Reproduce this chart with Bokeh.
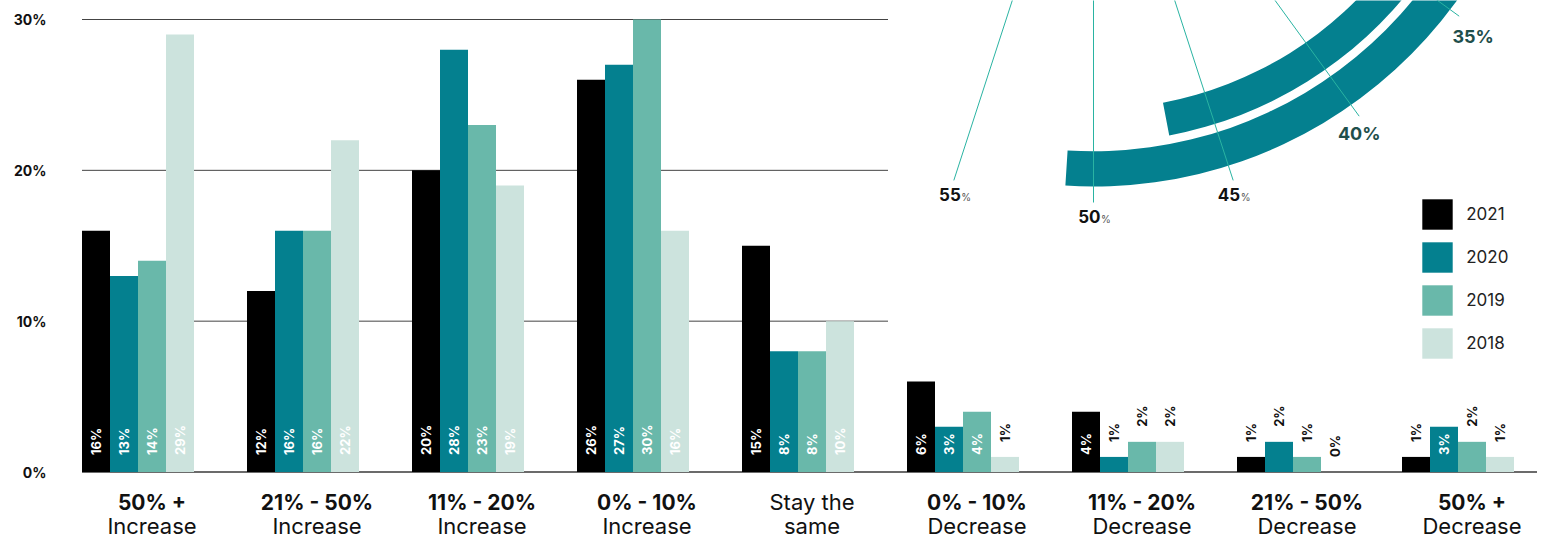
import numpy as np
from bokeh.plotting import figure
from bokeh.models import (ColumnDataSource, Range1d, FixedTicker,
                          PrintfTickFormatter, Legend, LegendItem)
from bokeh.core.properties import value
from bokeh.embed import file_html
from bokeh.resources import INLINE

# ---------------- data ----------------
CAT_LINE1 = ["50% +", "21% - 50%", "11% - 20%", "0% - 10%", "Stay the",
             "0% - 10%", "11% - 20%", "21% - 50%", "50% +"]
CAT_LINE2 = ["Increase", "Increase", "Increase", "Increase", "same",
             "Decrease", "Decrease", "Decrease", "Decrease"]
CAT_LINE1_BOLD = [True, True, True, True, False, True, True, True, True]

YEARS = ["2021", "2020", "2019", "2018"]
V2021 = [16, 12, 20, 26, 15, 6, 4, 1, 1]
V2020 = [13, 16, 28, 27, 8, 3, 1, 2, 3]
V2019 = [14, 16, 23, 30, 8, 4, 2, 1, 2]
V2018 = [29, 22, 19, 16, 10, 1, 2, 0, 1]

Y_TICKS = [0, 10, 20, 30]
GRID_VALUES = [10, 20, 30]

# decorative radial fragment (top right)
RADIAL_TICKS = [35, 40, 45, 50, 55]
RADIAL_TICKS_HIGHLIGHT = [35, 40]
ARC_VALUES = [51, 47]          # outer arc, inner arc (percent of full circle)

# ---------------- styles / layout ----------------
COLORS = ["#000000", "#04808f", "#69b8aa", "#cce3dd"]
ARC_COLOR = "#04808f"
RAY_COLOR = "#2ab3a2"
HILITE_COLOR = "#1f4f4b"
FONT = "Inter"

W, H = 1537, 539
LEFT = 81
GROUP_PX = 165.0
BAR_PX = 28.0
PX_PER_PCT = 15.083
ZERO_FROM_TOP = 471.5
FIRST_GROUP_PX = 0.5
GRID_END_PX = 806
BASE_END_PX = 1470
LABEL_OFF_PX = 70
INSIDE_MIN = 3

ARC_RADII = [(412.7, 448.0), (370.8, 404.2)]
ARC_CENTER_PX = (1012, -262)   # relative to frame top-left
RAY_LEN = 452
RAY_CENTER_PX = (1012, -250)
RAY_LABEL_DROP = 14

x0 = -FIRST_GROUP_PX / GROUP_PX
x_range = Range1d(x0, x0 + (W - LEFT) / GROUP_PX)
y0 = -(H - ZERO_FROM_TOP) / PX_PER_PCT
y_range = Range1d(y0, y0 + H / PX_PER_PCT)

p = figure(width=W, height=H, x_range=x_range, y_range=y_range,
           output_backend="svg", toolbar_location=None,
           x_axis_location=None, y_axis_location="left",
           min_border_left=LEFT, min_border_right=0,
           min_border_top=0, min_border_bottom=0,
           outline_line_color=None, background_fill_color="white")
p.xgrid.visible = False
p.ygrid.visible = False

ax = p.yaxis[0]
ax.ticker = FixedTicker(ticks=Y_TICKS)
ax.formatter = PrintfTickFormatter(format="%d%%")
ax.axis_line_color = None
ax.major_tick_line_color = None
ax.minor_tick_line_color = None
ax.major_tick_in = 0
ax.major_tick_out = 0
ax.major_label_standoff = 35
ax.major_label_text_font = FONT
ax.major_label_text_font_style = "bold"
ax.major_label_text_font_size = "14px"
ax.major_label_text_color = "#111111"

# grid lines
p.segment(x0=[0] * len(GRID_VALUES), x1=[GRID_END_PX / GROUP_PX] * len(GRID_VALUES),
          y0=GRID_VALUES, y1=GRID_VALUES, line_color="#444444", line_width=1)
p.segment(x0=[0], x1=[BASE_END_PX / GROUP_PX], y0=[0], y1=[0],
          line_color="#3a3a3a", line_width=1.5)

# bars
idx = np.arange(len(CAT_LINE1))
series = [V2021, V2020, V2019, V2018]
bar_w = BAR_PX / GROUP_PX
renderers = []
ins = dict(x=[], y=[], text=[])
outs = dict(x=[], y=[], text=[])
for k, (vals, col) in enumerate(zip(series, COLORS)):
    xs = idx + BAR_PX * (k + 0.5) / GROUP_PX
    r = p.vbar(x=xs, top=vals, bottom=0, width=bar_w, fill_color=col,
               line_color=None)
    renderers.append(r)
    for xv, v in zip(xs, vals):
        d = ins if v >= INSIDE_MIN else outs
        d["x"].append(xv)
        d["y"].append(0 if v >= INSIDE_MIN else v)
        d["text"].append(f"{v}%")

p.text(x="x", y="y", text="text", source=ColumnDataSource(ins),
       angle=np.pi / 2, text_align="left", text_baseline="middle",
       y_offset=-17, text_color="white", text_font=value(FONT),
       text_font_style="bold", text_font_size="13px")
p.text(x="x", y="y", text="text", source=ColumnDataSource(outs),
       angle=np.pi / 2, text_align="left", text_baseline="middle",
       y_offset=-15, text_color="#111111", text_font=value(FONT),
       text_font_style="bold", text_font_size="13px")

# category labels (two lines, kept inside the canvas)
lab_x = idx + LABEL_OFF_PX / GROUP_PX
b_idx = [i for i, b in enumerate(CAT_LINE1_BOLD) if b]
n_idx = [i for i, b in enumerate(CAT_LINE1_BOLD) if not b]
p.text(x=[lab_x[i] for i in b_idx], y=[0] * len(b_idx),
       text=[CAT_LINE1[i] for i in b_idx], y_offset=30,
       text_align="center", text_baseline="middle", text_color="#111111",
       text_font=value(FONT), text_font_style="bold", text_font_size="21px")
p.text(x=[lab_x[i] for i in n_idx], y=[0] * len(n_idx),
       text=[CAT_LINE1[i] for i in n_idx], y_offset=30,
       text_align="center", text_baseline="middle", text_color="#111111",
       text_font=value(FONT), text_font_size="22px")
p.text(x=lab_x, y=[0] * len(lab_x), text=CAT_LINE2, y_offset=54,
       text_align="center", text_baseline="middle", text_color="#111111",
       text_font=value(FONT), text_font_size="22px")

# decorative radial fragment
acx = x_range.start + ARC_CENTER_PX[0] / GROUP_PX
acy = y_range.end - ARC_CENTER_PX[1] / PX_PER_PCT
arc_start = [np.pi / 2 - 2 * np.pi * v / 100 for v in ARC_VALUES]
p.annular_wedge(x=[acx] * len(ARC_VALUES), y=[acy] * len(ARC_VALUES),
                inner_radius=[r[0] for r in ARC_RADII],
                outer_radius=[r[1] for r in ARC_RADII],
                inner_radius_units="screen", outer_radius_units="screen",
                start_angle=arc_start, end_angle=[np.pi / 2] * len(ARC_VALUES),
                fill_color=ARC_COLOR, line_color=None)

rcx = x_range.start + RAY_CENTER_PX[0] / GROUP_PX
rcy = y_range.end - RAY_CENTER_PX[1] / PX_PER_PCT
ang = np.array([np.pi / 2 - 2 * np.pi * t / 100 for t in RADIAL_TICKS])
p.ray(x=[rcx] * len(ang), y=[rcy] * len(ang), length=RAY_LEN,
      length_units="screen", angle=ang, line_color=RAY_COLOR, line_width=1)

lx = RAY_LEN * np.cos(ang)
ly = -RAY_LEN * np.sin(ang) + RAY_LABEL_DROP
hi = [i for i, t in enumerate(RADIAL_TICKS) if t in RADIAL_TICKS_HIGHLIGHT]
lo = [i for i, t in enumerate(RADIAL_TICKS) if t not in RADIAL_TICKS_HIGHLIGHT]
p.text(x=[rcx] * len(hi), y=[rcy] * len(hi),
       text=[f"{RADIAL_TICKS[i]}%" for i in hi],
       x_offset=[lx[i] + (14 if RADIAL_TICKS[i] == 35 else 0) for i in hi],
       y_offset=[ly[i] + (6 if RADIAL_TICKS[i] == 35 else 3) for i in hi],
       text_align="center", text_baseline="middle", text_color=HILITE_COLOR,
       text_font=value(FONT), text_font_style="bold", text_font_size="18px")
p.text(x=[rcx] * len(lo), y=[rcy] * len(lo),
       text=[f"{RADIAL_TICKS[i]}" for i in lo],
       x_offset=[lx[i] + 7 for i in lo], y_offset=[ly[i] for i in lo],
       text_align="right", text_baseline="middle", text_color="#111111",
       text_font=value(FONT), text_font_style="bold", text_font_size="17px")
p.text(x=[rcx] * len(lo), y=[rcy] * len(lo), text=["%"] * len(lo),
       x_offset=[lx[i] + 7.5 for i in lo], y_offset=[ly[i] + 2.5 for i in lo],
       text_align="left", text_baseline="middle", text_color="#555555",
       text_font=value(FONT), text_font_size="10px")

# legend
legend = Legend(items=[LegendItem(label=y, renderers=[r]) for y, r in zip(YEARS, renderers)],
                location=(1337.2, 176.8), orientation="vertical",
                glyph_width=38, glyph_height=38, label_height=38,
                spacing=5, padding=0, margin=0, label_standoff=10,
                border_line_color=None, background_fill_alpha=0,
                label_text_font=FONT, label_text_font_size="17px",
                label_text_color="#222222")
p.add_layout(legend)

open("out.html", "w").write(file_html(p, INLINE))
